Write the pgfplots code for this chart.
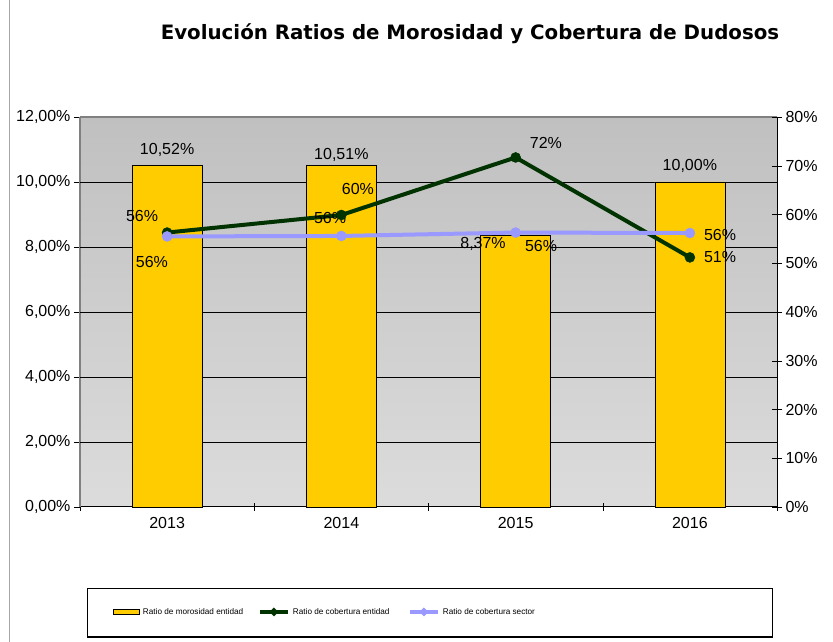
\documentclass[border=0pt]{standalone}
\usepackage{pgfplots}
\pgfplotsset{compat=1.18}
\usepackage{fontspec}
\setmainfont{Liberation Sans}
\newfontfamily\titlefont{DejaVu Sans}
\definecolor{barcol}{RGB}{255,204,0}
\definecolor{entcol}{RGB}{0,51,0}
\definecolor{seccol}{RGB}{153,153,255}
\definecolor{bgtop}{RGB}{192,192,192}
\definecolor{bgbot}{RGB}{220,220,220}
\begin{document}
\begin{tikzpicture}
\path[use as bounding box] (0bp,0bp) rectangle (833bp,642bp);
\draw[gray!70, line width=0.8bp] (9bp,0bp) -- (9bp,642bp);
\node[font=\titlefont\bfseries\fontsize{19.8bp}{22bp}\selectfont] at (470bp,608bp) {Evolución Ratios de Morosidad y Cobertura de Dudosos};
% legend frame
\draw[black, line width=0.8bp] (87bp,5bp) rectangle (772bp,54bp);
\draw[black, line width=2.2bp] (87bp,5bp) -- (772bp,5bp);
\begin{axis}[
  at={(80bp,135bp)}, anchor=south west,
  scale only axis, width=697bp, height=390bp,
  xmin=-0.5, xmax=3.5, ymin=0, ymax=12,
  axis x line*=bottom, axis y line*=left,
  x axis line style={black, line width=1bp, -},
  y axis line style={gray, line width=1.2bp, -},
  xtick={0,1,2,3}, xticklabels={2013,2014,2015,2016},
  major x tick style={draw=none},
  minor xtick={-0.5,0.5,1.5,2.5,3.5},
  minor x tick style={black, thin},
  xtick align=center, minor tick length=8bp,
  ytick={0,2,4,6,8,10,12},
  ytick align=outside, major tick length=6bp,
  y tick style={black, thin},
  /pgf/number format/assume math mode=true,
  yticklabel={\pgfmathprintnumber[fixed,fixed zerofill,precision=2,use comma]{\tick}\%},
  tick label style={font=\fontsize{16bp}{18bp}\selectfont},
  xticklabel style={yshift=-4bp},
  axis background/.style={top color=bgtop, bottom color=bgbot},
  clip=false,
]
\draw[gray, line width=1.2bp] (rel axis cs:0,1) -- (rel axis cs:1,1);
\foreach \g in {2,4,6,8,10} {
  \edef\tmp{\noexpand\draw[black, line width=0.7bp] (axis cs:-0.5,\g) -- (axis cs:3.5,\g);}\tmp
}
\addplot[ybar, bar width=70bp, fill=barcol, draw=black, line width=0.6bp] coordinates {(0,10.52) (1,10.51) (2,8.37) (3,10.00)};
\end{axis}
\begin{axis}[
  at={(80bp,135bp)}, anchor=south west,
  scale only axis, width=697bp, height=390bp,
  xmin=-0.5, xmax=3.5, ymin=0, ymax=80,
  axis x line=none, axis y line*=right,
  y axis line style={black, line width=1bp, -},
  ytick={0,10,...,80},
  ytick align=center, major tick length=10bp,
  y tick style={black, thin},
  /pgf/number format/assume math mode=true,
  yticklabel={\pgfmathprintnumber[fixed,precision=0]{\tick}\%},
  tick label style={font=\fontsize{16bp}{18bp}\selectfont},
  clip=false,
  legend columns=3,
  legend style={at={(axis description cs:0.047,-0.269)}, anchor=west, draw=none, fill=none,
    font=\fontsize{8.2bp}{9bp}\selectfont, inner sep=0pt, column sep=1bp},
  legend image code/.code={\draw[#1, mark=none] (0bp,0bp) -- (28bp,0bp); \fill[#1] (14bp,0bp) circle (1.6bp);},
]
\addlegendimage{legend image code/.code={\draw[black, fill=barcol, line width=1bp] (0bp,-2.5bp) rectangle (26bp,2.5bp);}}
\addlegendentry{\makebox[112bp][l]{Ratio de morosidad entidad}}
\addplot[entcol, line width=4bp, mark=*, mark size=5bp, mark options={fill=entcol, line width=0.5bp}] coordinates {(0,56.3) (1,59.9) (2,71.7) (3,51.2)};
\addlegendentry{\makebox[112bp][l]{Ratio de cobertura entidad}}
\addplot[seccol, line width=4bp, mark=*, mark size=5bp, mark options={fill=seccol, line width=0.5bp}] coordinates {(0,55.5) (1,55.6) (2,56.3) (3,56.2)};
\addlegendentry{\makebox[112bp][l]{Ratio de cobertura sector}}
% data labels
\begin{scope}[every node/.style={font=\fontsize{16bp}{18bp}\selectfont, inner sep=0pt}]
\node at (axis cs:0,73.2) {10,52\%};
\node at (axis cs:1,72.2) {10,51\%};
\node at (axis cs:1.813,53.9) {8,37\%};
\node at (axis cs:3,69.9) {10,00\%};
\node at (axis cs:-0.144,59.7) {56\%};
\node at (axis cs:1.095,65.2) {60\%};
\node at (axis cs:2.174,74.7) {72\%};
\node at (axis cs:3.173,51.3) {51\%};
\node at (axis cs:-0.087,50.3) {56\%};
\node at (axis cs:0.935,59.3) {56\%};
\node at (axis cs:2.146,53.5) {56\%};
\node at (axis cs:3.173,55.8) {56\%};
\end{scope}
\end{axis}
\end{tikzpicture}
\end{document}
